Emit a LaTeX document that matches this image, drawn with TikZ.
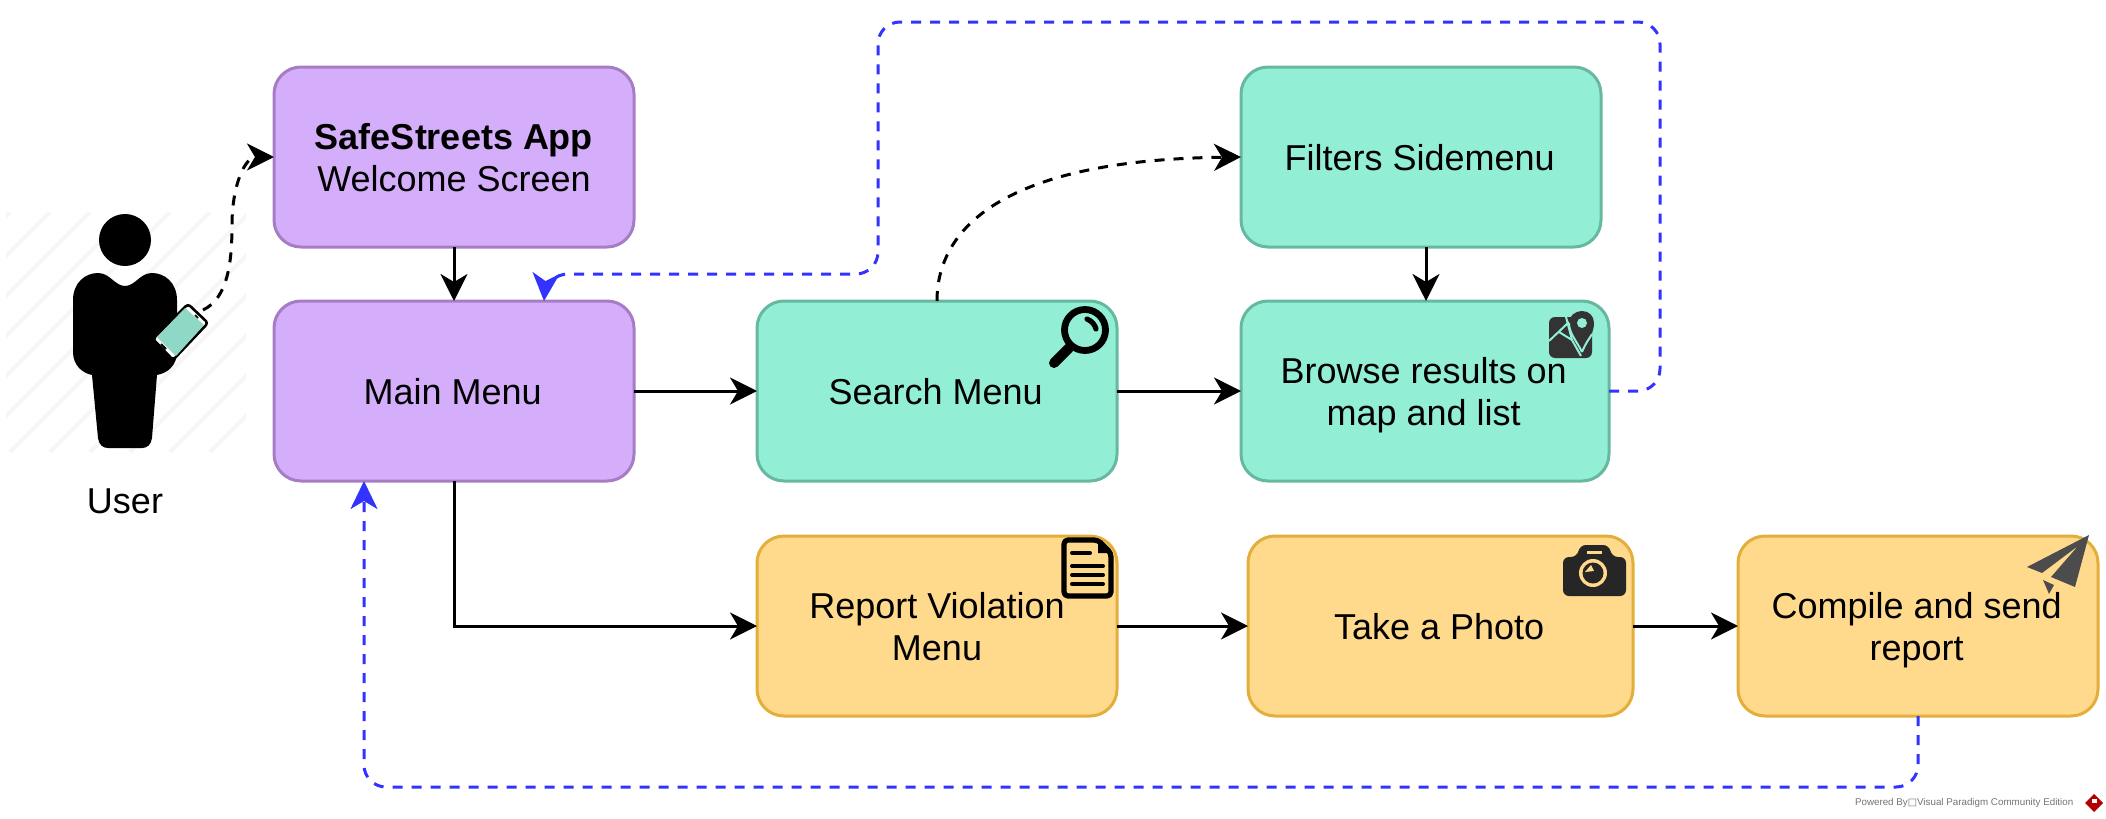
\documentclass[tikz,border=0pt]{standalone}
\usepackage{fontspec}
\setmainfont{Liberation Sans}
\newfontfamily\symfont{DejaVu Sans}
\usetikzlibrary{arrows.meta,calc}
\definecolor{purpfill}{HTML}{D5AEFB}
\definecolor{purpline}{HTML}{A67DC4}
\definecolor{tealfill}{HTML}{92EED4}
\definecolor{tealline}{HTML}{66B8A0}
\definecolor{yelfill}{HTML}{FFD98C}
\definecolor{yelline}{HTML}{E3AE3A}
\definecolor{linkblue}{HTML}{3333FF}
\definecolor{phonescreen}{HTML}{8ED8C5}
\definecolor{hatchgray}{HTML}{F6F6F6}
\newcommand{\lst}{\rule{0pt}{13.8pt}}
\newcommand{\nudge}{\hspace*{1.3pt}}
\tikzset{
  x=0.5pt,y=-0.5pt,
  boxbase/.style={rectangle,rounded corners=13.5pt,line width=1.5pt,minimum height=90pt,
    inner sep=0pt,outer sep=0pt,align=center,font=\fontsize{18}{21}\selectfont},
  purplebox/.style={boxbase,draw=purpline,fill=purpfill},
  tealbox/.style={boxbase,draw=tealline,fill=tealfill},
  yellowbox/.style={boxbase,draw=yelline,fill=yelfill},
  flow/.style={line width=1.5pt,-{Stealth[length=13.5pt,width=13.5pt,inset=4pt]}},
  dashflow/.style={line width=1.5pt,dash pattern=on 5pt off 4.5pt,-{Stealth[length=13.5pt,width=13.5pt,inset=4pt]}},
  backflow/.style={draw=linkblue,line width=1.5pt,dash pattern=on 5pt off 4.5pt,rounded corners=11pt,
    -{Stealth[length=14pt,width=13.5pt,inset=4pt,fill=linkblue]}},
  hatchline/.style={draw=hatchgray,line width=2pt},
}
\begin{document}
\begin{tikzpicture}
\useasboundingbox (0,0) rectangle (2106,819);
% hatch behind the user
\begin{scope}
\clip (6,212) rectangle (246,452);
\foreach \k in {0,40,...,480}{
  \draw[hatchline] ({-230+\k},452) -- ({10+\k},212);
}
\end{scope}
% user figure
\fill[black] (125,240) circle (26);
\fill[black] (73,300) .. controls (73,283) and (85,273) .. (98,273)
  .. controls (110,273) and (115,286) .. (125,286)
  .. controls (135,286) and (140,273) .. (152,273)
  .. controls (165,273) and (177,283) .. (177,300)
  -- (177,352) .. controls (177,365) and (168,373) .. (157,375)
  -- (152,438) .. controls (151,445) and (147,448) .. (142,448)
  -- (108,448) .. controls (103,448) and (99,445) .. (98,438)
  -- (92,375) .. controls (82,373) and (73,365) .. (73,352) -- cycle;
\node[inner sep=0pt,outer sep=0pt,font=\fontsize{18}{21}\selectfont] (userlabel) at (125,501) {User};
% phone
\fill[white,draw=black,line width=1.3pt,line join=round,rounded corners=1.5pt] (188,304) -- (208,323) -- (173,360) -- (153,339) -- cycle;
\fill[phonescreen] (185,308) -- (204,325) -- (176,356) -- (157,337) -- cycle;
\draw[black,line width=1pt] (166,349) -- (161,344);
\draw[black,line width=.8pt] (195,315) -- (198,318);
\coordinate (phone) at (203,310);
% boxes
\node[purplebox,minimum width=180pt] (welcome) at (454,157) {\textbf{SafeStreets App}\lst\\Welcome Screen\lst};
\node[purplebox,minimum width=180pt] (mainmenu) at (454,391) {Main Menu\lst\nudge};
\node[tealbox,minimum width=180pt] (search) at (937,391) {Search Menu\lst\nudge};
\node[tealbox,minimum width=180pt] (filters) at (1421,157) {Filters Sidemenu\lst\nudge};
\node[tealbox,minimum width=184pt] (browse) at (1425,391) {Browse results on\lst\nudge\\\smash{map and list}\lst\nudge};
\node[yellowbox,minimum width=180pt] (report) at (937,626) {Report Violation\lst\\Menu\lst};
\node[yellowbox,minimum width=192.5pt] (photo) at (1440.5,626) {Take a Photo\lst\nudge};
\node[yellowbox,minimum width=180pt] (compile) at (1918,626) {Compile and send\lst\nudge\\\smash{report}\lst\nudge};
% icons
\draw[black,line width=3.4pt] (1085,330) circle (20.5);
\draw[black,line width=2.6pt,line cap=round] (1087,319) .. controls (1092,321) and (1095,325) .. (1096,329);
\draw[black,line width=5pt,line cap=round] (1069,348) -- (1054,363);
% map icon
\fill[black!80,rounded corners=3pt] (1549,317) rectangle (1592,358);
\draw[tealfill,line width=1pt] (1549,341) -- (1569,322) (1559,332) -- (1572,340) -- (1581,356) (1566,317) -- (1572,340);
\fill[black!80] (1582,352) .. controls (1576,340) and (1569,333) .. (1569,323)
  .. controls (1569,316) and (1575,311) .. (1582,311)
  .. controls (1589,311) and (1594,316) .. (1594,323)
  .. controls (1594,333) and (1588,340) .. (1582,352) -- cycle;
\draw[tealfill,line width=1pt] (1582,352) .. controls (1576,340) and (1569,333) .. (1569,323);
\draw[tealfill,line width=1pt] (1582,352) .. controls (1586,342) and (1590,338) .. (1592,334);
\fill[tealfill] (1582,323) circle (5);
% document icon
\draw[black,line width=2.6pt,line join=round,rounded corners=2pt] (1064,540) -- (1098,540) -- (1111,553) -- (1111,596) -- (1064,596) -- cycle;
\fill[black] (1098,540) -- (1111,553) -- (1098,553) -- cycle;
\draw[black,line width=2pt,line cap=round] (1072,553) -- (1090,553) (1072,566) -- (1103,566) (1072,575) -- (1103,575) (1072,584) -- (1103,584);
% camera icon
\fill[black!85,rounded corners=3pt] (1563,557) -- (1577,557) -- (1580,545) -- (1609,545) -- (1612,557) -- (1626,557) -- (1626,596) -- (1563,596) -- cycle;
\fill[yelfill] (1587,551) rectangle (1602,554);
\fill[yelfill] (1593,573) circle (14);
\fill[black!85] (1593,573) circle (10.5);
\fill[yelfill] (1591,565) -- (1585,572) -- (1594,571) -- cycle;
% paper plane icon
\fill[black!70,line join=round] (2089,535) -- (2027,567) -- (2042,573) -- (2078,546) -- (2051,577) -- (2075,587) -- cycle;
\fill[black!70] (2043,580) -- (2054,585) -- (2049,594) -- cycle;
% connectors
\draw[flow] (welcome.south) -- (mainmenu.north);
\draw[flow] (mainmenu.east) -- (search.west);
\draw[flow] (search.east) -- (browse.west);
\draw[flow] (filters.south -| 1426,0) -- (browse.north -| 1426,0);
\draw[flow] (mainmenu.south) |- (report.west);
\draw[flow] (report.east) -- (photo.west);
\draw[flow] (photo.east) -- (compile.west);
\draw[dashflow] (phone) .. controls (228,298) and (232,262) .. (232,225)
  .. controls (232,185) and (245,157) .. (welcome.west);
\draw[dashflow] (search.north) .. controls (937,230) and (1000,160) .. (filters.west);
\coordinate (maintop) at ($(mainmenu.north)+(90,0)$);
\coordinate (mainbottom) at ($(mainmenu.south)+(-90,0)$);
\draw[backflow] (browse.east) -- ++(51,0) -- ++(0,-369) -- (878,22) -- (878,274) -- (546,274) -- (maintop);
\draw[backflow] (compile.south) -- ++(0,71) -- ++(-1554,0) -- (mainbottom);
% footer
\node[anchor=west,inner sep=0pt,outer sep=0pt,text=black!55,font=\fontsize{4.9}{6}\selectfont] (footer) at (1855,803) {Powered By{\symfont □}Visual Paradigm Community Edition};
\fill[red!70!black] (2094,794) -- (2103,803) -- (2094,812) -- (2085,803) -- cycle;
\fill[white] (2092,799) rectangle (2097,803);
\end{tikzpicture}
\end{document}
